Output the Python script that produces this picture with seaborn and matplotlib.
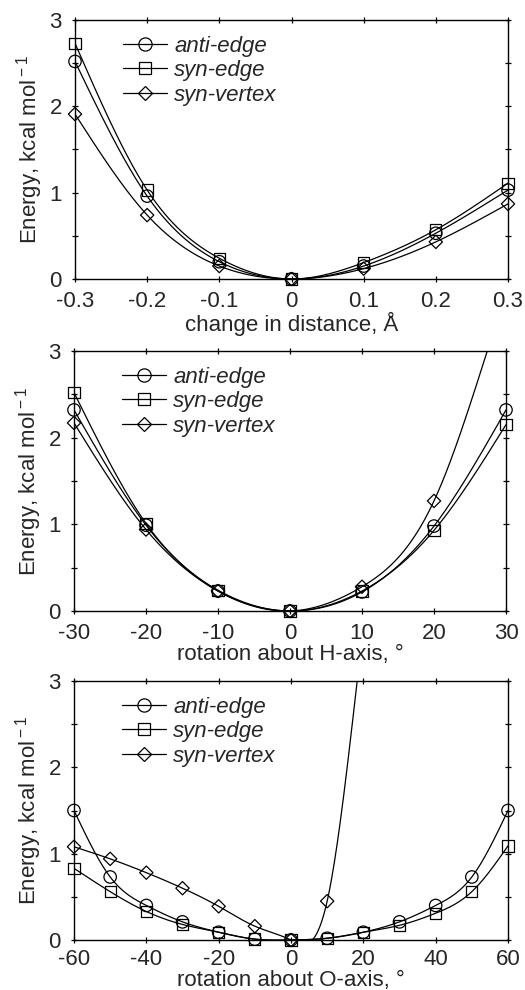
import numpy as np
import pandas as pd
import seaborn as sns
import matplotlib.pyplot as plt
from matplotlib.lines import Line2D
from matplotlib.ticker import MultipleLocator

# panel 1: change in distance
dist_x = [-0.3, -0.2, -0.1, 0.0, 0.1, 0.2, 0.3]
dist_anti_edge = [2.52, 0.96, 0.20, 0.0, 0.15, 0.53, 1.03]
dist_syn_edge = [2.73, 1.03, 0.24, 0.0, 0.19, 0.57, 1.11]
dist_syn_vertex = [1.91, 0.74, 0.15, 0.0, 0.12, 0.43, 0.87]

# panel 2: rotation about H-axis
hrot_x = [-30, -20, -10, 0, 10, 20, 30]
hrot_anti_edge = [2.32, 0.99, 0.23, 0.0, 0.22, 0.98, 2.32]
hrot_syn_edge = [2.52, 1.01, 0.24, 0.0, 0.23, 0.93, 2.15]
hrot_vertex_x = [-30, -20, -10, 0, 10, 20]
hrot_syn_vertex = [2.17, 0.94, 0.23, 0.0, 0.28, 1.27]
hrot_vertex_tail = (27.4, 3.0)   # where the fitted curve leaves the frame

# panel 3: rotation about O-axis
orot_x = [-60, -50, -40, -30, -20, -10, 0, 10, 20, 30, 40, 50, 60]
orot_anti_edge = [1.50, 0.73, 0.40, 0.21, 0.09, 0.01, 0.0, 0.02, 0.09, 0.21, 0.40, 0.73, 1.50]
orot_syn_edge = [0.83, 0.56, 0.33, 0.18, 0.09, 0.01, 0.0, 0.02, 0.09, 0.17, 0.31, 0.56, 1.09]
orot_vertex_x = [-60, -50, -40, -30, -20, -10, 0, 10]
orot_syn_vertex = [1.08, 0.94, 0.78, 0.60, 0.39, 0.16, 0.0, 0.45]
orot_vertex_tail = (18.3, 3.0)

series_names = ['anti-edge', 'syn-edge', 'syn-vertex']
markers = {'anti-edge': 'o', 'syn-edge': 's', 'syn-vertex': 'D'}
msizes = {'anti-edge': 80, 'syn-edge': 66, 'syn-vertex': 46}


def natural_spline(x, y, n=300):
    # smooth line through the points (natural cubic spline)
    x = np.asarray(x, float)
    y = np.asarray(y, float)
    k = len(x)
    h = np.diff(x)
    A = np.zeros((k, k))
    b = np.zeros(k)
    A[0, 0] = 1
    A[-1, -1] = 1
    for i in range(1, k - 1):
        A[i, i - 1] = h[i - 1]
        A[i, i] = 2 * (h[i - 1] + h[i])
        A[i, i + 1] = h[i]
        b[i] = 6 * ((y[i + 1] - y[i]) / h[i] - (y[i] - y[i - 1]) / h[i - 1])
    M = np.linalg.solve(A, b)
    xs = np.linspace(x[0], x[-1], n)
    idx = np.clip(np.searchsorted(x, xs) - 1, 0, k - 2)
    x0, x1 = x[idx], x[idx + 1]
    y0, y1 = y[idx], y[idx + 1]
    m0, m1 = M[idx], M[idx + 1]
    hh = x1 - x0
    t0 = x1 - xs
    t1 = xs - x0
    ys = (m0 * t0**3 + m1 * t1**3) / (6 * hh) + (y0 / hh - m0 * hh / 6) * t0 + (y1 / hh - m1 * hh / 6) * t1
    return xs, ys


sns.set_style('ticks')
plt.rcParams['font.family'] = ['Liberation Sans', 'DejaVu Sans']
plt.rcParams['mathtext.fontset'] = 'custom'
plt.rcParams['mathtext.rm'] = 'Liberation Sans'
FS = 16
plt.rcParams['font.size'] = FS

fig = plt.figure(figsize=(5.25, 9.9), dpi=100)
boxes = [
    [75 / 525, 1 - 279 / 990, 433 / 525, 259 / 990],
    [74 / 525, 1 - 611 / 990, 432 / 525, 260 / 990],
    [74 / 525, 1 - 940 / 990, 434 / 525, 259 / 990],
]

panels = [
    dict(pts={'anti-edge': (dist_x, dist_anti_edge), 'syn-edge': (dist_x, dist_syn_edge),
              'syn-vertex': (dist_x, dist_syn_vertex)}, tail=None,
         xlim=(-0.3, 0.3), xticks=[-0.3, -0.2, -0.1, 0, 0.1, 0.2, 0.3],
         xticklabels=['-0.3', '-0.2', '-0.1', '0', '0.1', '0.2', '0.3'],
         xlabel='change in distance, Å', xpad=6, xlabelpad=0),
    dict(pts={'anti-edge': (hrot_x, hrot_anti_edge), 'syn-edge': (hrot_x, hrot_syn_edge),
              'syn-vertex': (hrot_vertex_x, hrot_syn_vertex)}, tail=hrot_vertex_tail,
         xlim=(-30, 30), xticks=[-30, -20, -10, 0, 10, 20, 30],
         xticklabels=['-30', '-20', '-10', '0', '10', '20', '30'],
         xlabel='rotation about H-axis, °', xpad=6, xlabelpad=0),
    dict(pts={'anti-edge': (orot_x, orot_anti_edge), 'syn-edge': (orot_x, orot_syn_edge),
              'syn-vertex': (orot_vertex_x, orot_syn_vertex)}, tail=orot_vertex_tail,
         xlim=(-60, 60), xticks=[-60, -40, -20, 0, 20, 40, 60],
         xticklabels=['-60', '-40', '-20', '0', '20', '40', '60'],
         xlabel='rotation about O-axis, °', xpad=4, xlabelpad=0),
]

for box, p in zip(boxes, panels):
    ax = fig.add_axes(box)
    for name in series_names:
        x, y = p['pts'][name]
        cx, cy = list(x), list(y)
        if name == 'syn-vertex' and p['tail'] is not None:
            cx.append(p['tail'][0])
            cy.append(p['tail'][1])
        xs, ys = natural_spline(cx, cy)
        sns.lineplot(x=xs, y=ys, color='black', linewidth=0.9, sort=False,
                     estimator=None, ax=ax, clip_on=True)
        df = pd.DataFrame({'x': x, 'y': y})
        sns.scatterplot(data=df, x='x', y='y', marker=markers[name], s=msizes[name],
                        facecolors='none', edgecolor='black', linewidth=0.9,
                        ax=ax, clip_on=False, zorder=3)
    ax.set_xlim(*p['xlim'])
    ax.set_ylim(0, 3)
    ax.set_xticks(p['xticks'])
    ax.set_xticklabels(p['xticklabels'])
    ax.set_yticks([0, 1, 2, 3])
    ax.set_yticklabels(['0', '1', '2', '3'])
    ax.yaxis.set_minor_locator(MultipleLocator(0.5))
    ax.tick_params(which='both', direction='inout', top=True, right=True,
                   length=5, width=0.9, labelsize=FS, color='black')
    ax.tick_params(axis='x', pad=p['xpad'])
    ax.tick_params(axis='y', pad=7)
    ax.tick_params(which='minor', length=4)
    for s in ax.spines.values():
        s.set_linewidth(1.0)
        s.set_color('black')
    ax.set_xlabel(p['xlabel'], fontsize=FS, labelpad=p['xlabelpad'])
    ax.set_ylabel('Energy, kcal mol$^{\\rm -1}$', fontsize=FS, labelpad=3)
    handles = [Line2D([], [], color='black', linewidth=0.9, marker=markers[n],
                      markersize={'o': 9.5, 's': 8.5, 'D': 7}[markers[n]],
                      markerfacecolor='none', markeredgecolor='black',
                      markeredgewidth=0.9) for n in series_names]
    ax.legend(handles, series_names, loc='upper left', bbox_to_anchor=(0.08, 0.99),
              frameon=False, prop={'style': 'italic', 'size': FS},
              handlelength=2.0, handletextpad=0.3, labelspacing=0.15,
              borderaxespad=0.2)

fig.savefig('out.png', dpi=100)
